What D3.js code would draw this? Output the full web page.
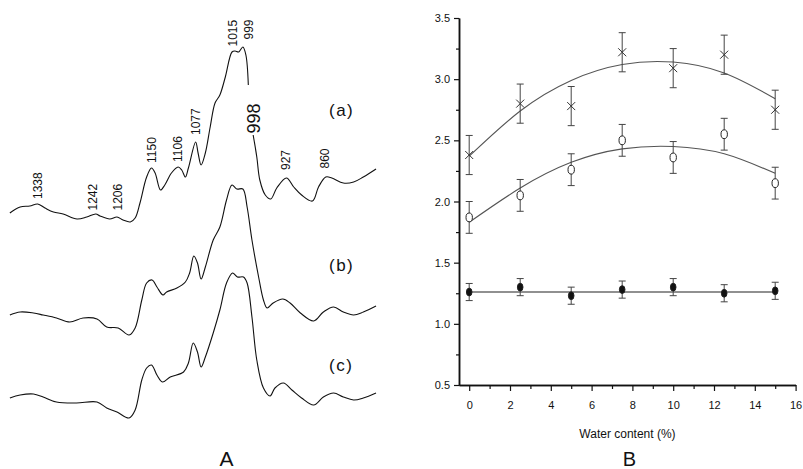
<!DOCTYPE html>
<html>
<head>
<meta charset="utf-8">
<script src="https://cdn.jsdelivr.net/npm/d3@7/dist/d3.min.js"></script>
<style>
  body { margin: 0; background: #fff; }
  text { font-family: "Liberation Sans", Arial, sans-serif; fill: #111; }
</style>
</head>
<body>
<div id="chart"></div>
<script>
// ---------- panel A : spectra, [wavenumber, absorbance]
var traceA = [
  [1384, 2.37], [1367, 2.43], [1351, 2.44], [1338, 2.46], [1326, 2.42], [1312, 2.38],
  [1296, 2.36], [1273, 2.31], [1257, 2.33], [1242, 2.36], [1235, 2.34], [1219, 2.31],
  [1207, 2.33], [1197, 2.30], [1185, 2.28], [1177, 2.32], [1169, 2.47], [1158, 2.73],
  [1150, 2.82], [1144, 2.77], [1135, 2.60], [1128, 2.65], [1117, 2.77], [1106, 2.83],
  [1100, 2.80], [1094, 2.73], [1089, 2.82], [1077, 3.08], [1073, 2.97], [1068, 2.85],
  [1061, 2.97], [1053, 3.23], [1045, 3.47], [1037, 3.55], [1028, 3.73], [1017, 3.98],
  [1012, 3.99], [1006, 3.98], [999, 4.03], [994, 3.95], [990, 3.65],
  null,
  [982, 3.15], [976, 2.93], [971, 2.70], [962, 2.55], [953, 2.51], [943, 2.62],
  [927, 2.72], [915, 2.63], [902, 2.55], [884, 2.49], [874, 2.63], [862, 2.73],
  [852, 2.72], [833, 2.67], [816, 2.68], [800, 2.73], [779, 2.81]
];
var traceB = [
  [1384, 1.35], [1367, 1.38], [1345, 1.37], [1329, 1.35], [1307, 1.32], [1285, 1.28],
  [1263, 1.32], [1240, 1.31], [1224, 1.23], [1205, 1.22], [1187, 1.15], [1177, 1.22],
  [1166, 1.50], [1158, 1.67], [1149, 1.70], [1141, 1.63], [1131, 1.55], [1125, 1.58],
  [1108, 1.62], [1094, 1.68], [1087, 1.77], [1080, 1.94], [1074, 1.87], [1068, 1.71],
  [1061, 1.83], [1048, 2.10], [1037, 2.23], [1026, 2.50], [1017, 2.65], [1009, 2.61],
  [999, 2.61], [992, 2.43], [984, 2.10], [973, 1.73], [965, 1.50], [959, 1.42],
  [949, 1.47], [933, 1.51], [921, 1.47], [904, 1.37], [882, 1.29], [866, 1.38],
  [849, 1.43], [833, 1.38], [816, 1.35], [800, 1.38], [779, 1.44]
];
var traceC = [
  [1384, 0.52], [1367, 0.55], [1345, 0.56], [1329, 0.53], [1307, 0.48], [1274, 0.47],
  [1240, 0.48], [1224, 0.42], [1207, 0.38], [1187, 0.32], [1177, 0.40], [1166, 0.70],
  [1158, 0.82], [1150, 0.85], [1141, 0.75], [1132, 0.68], [1119, 0.73], [1097, 0.78],
  [1089, 0.87], [1081, 1.07], [1074, 0.98], [1068, 0.83], [1061, 0.93], [1048, 1.17],
  [1037, 1.40], [1026, 1.67], [1016, 1.77], [1008, 1.73], [998, 1.73], [992, 1.67],
  [984, 1.33], [976, 0.90], [965, 0.62], [954, 0.54], [946, 0.62], [932, 0.67],
  [918, 0.60], [902, 0.52], [882, 0.45], [866, 0.53], [849, 0.57], [833, 0.53],
  [816, 0.50], [800, 0.52], [779, 0.57]
];
var peakLabels = [1338, 1242, 1206, 1150, 1106, 1077, 1015, 999, 998, 927, 860];
var traceNames = ["(a)", "(b)", "(c)"];

// ---------- panel B : water content series
var waterContent = [0, 2.5, 5, 7.5, 10, 12.5, 15];
var crossValues = [2.38, 2.80, 2.78, 3.22, 3.09, 3.20, 2.75];
var crossErrors = [0.16, 0.16, 0.16, 0.16, 0.16, 0.16, 0.16];
var crossFit = [2.37, 2.74, 2.99, 3.12, 3.14, 3.05, 2.84];
var circleValues = [1.87, 2.05, 2.26, 2.50, 2.36, 2.55, 2.15];
var circleErrors = [0.13, 0.13, 0.13, 0.13, 0.13, 0.13, 0.13];
var circleFit = [1.83, 2.11, 2.32, 2.43, 2.45, 2.39, 2.23];
var dotValues = [1.26, 1.30, 1.23, 1.28, 1.30, 1.25, 1.27];
var dotErrors = [0.07, 0.07, 0.07, 0.07, 0.07, 0.07, 0.07];
var dotFit = [1.26, 1.26, 1.26, 1.26, 1.26, 1.26, 1.26];
var xTicksB = [0, 2, 4, 6, 8, 10, 12, 14, 16];
var yTicksB = [0.5, 1.0, 1.5, 2.0, 2.5, 3.0, 3.5];

var width = 803, height = 469;
var svg, xA, yA, xB, yB;

// label layout for panel A: [dx from peak, bottom y of rotated text, font size]
var peakLabelLayout = {
  1338: [0, 199, 12], 1242: [-3.5, 210.5, 12], 1206: [0, 210.5, 12],
  1150: [0, 163, 12], 1106: [-0.8, 162, 12], 1077: [0.4, 135, 12],
  1015: [-0.8, 46.5, 12], 999: [5.5, 39.5, 12], 998: [10.6, 133.5, 18],
  927: [-0.4, 170, 12], 860: [-2, 168.5, 12]
};
var traceNameY = [116, 271, 371];

createSVG();
drawPanelA();
drawPanelB();

function createSVG() {
  svg = d3.select("#chart")
    .append("svg")
    .attr("width", width)
    .attr("height", height);
}

function drawPanelA() {
  xA = d3.scaleLinear().domain([1338, 860]).range([37.7, 327]);
  yA = d3.scaleLinear().domain([0, 4.5]).range([450, 0]);

  var line = d3.line()
    .defined(function(d) { return d !== null; })
    .x(function(d) { return xA(d[0]); })
    .y(function(d) { return yA(d[1]); })
    .curve(d3.curveCatmullRom.alpha(0.5));

  svg.selectAll(".spectrum")
    .data([traceA, traceB, traceC])
    .enter()
    .append("path")
    .attr("class", "spectrum")
    .attr("d", line)
    .attr("fill", "none")
    .attr("stroke", "#111")
    .attr("stroke-width", 1.1);

  svg.selectAll(".peak")
    .data(peakLabels)
    .enter()
    .append("text")
    .attr("class", "peak")
    .attr("transform", function(d) {
      var l = peakLabelLayout[d];
      return "translate(" + (xA(d) + l[0]) + "," + l[1] + ") rotate(-90)";
    })
    .attr("dy", "0.35em")
    .style("font-size", function(d) { return peakLabelLayout[d][2] + "px"; })
    .text(function(d) { return d; });

  svg.selectAll(".tracename")
    .data(traceNames)
    .enter()
    .append("text")
    .attr("class", "tracename")
    .attr("x", 329)
    .attr("y", function(d, i) { return traceNameY[i]; })
    .style("font-size", "17px")
    .style("letter-spacing", "1.5px")
    .text(function(d) { return d; });

  svg.append("text")
    .attr("x", 226.5)
    .attr("y", 466)
    .attr("text-anchor", "middle")
    .style("font-size", "21px")
    .text("A");
}

function drawPanelB() {
  xB = d3.scaleLinear().domain([-0.5, 16]).range([459, 795.6]);
  yB = d3.scaleLinear().domain([0.5, 3.5]).range([385, 18]);

  var xMinor = d3.range(1, 16, 2);
  var yMinor = d3.range(0.75, 3.5, 0.5);

  // minor ticks first
  svg.append("g")
    .attr("transform", "translate(0," + yB(0.5) + ")")
    .call(d3.axisBottom(xB).tickValues(xMinor).tickSize(4).tickSizeOuter(0).tickFormat(""))
    .call(styleAxis);
  svg.append("g")
    .attr("transform", "translate(" + xB(-0.5) + ",0)")
    .call(d3.axisLeft(yB).tickValues(yMinor).tickSize(3).tickSizeOuter(0).tickFormat(""))
    .call(styleAxis);

  svg.append("g")
    .attr("transform", "translate(0," + yB(0.5) + ")")
    .call(d3.axisBottom(xB).tickValues(xTicksB).tickSize(6).tickSizeOuter(0).tickPadding(10))
    .call(styleAxis);
  svg.append("g")
    .attr("transform", "translate(" + xB(-0.5) + ",0)")
    .call(d3.axisLeft(yB).tickValues(yTicksB).tickSize(5).tickSizeOuter(0).tickPadding(4)
      .tickFormat(d3.format(".1f")))
    .call(styleAxis);

  svg.append("text")
    .attr("x", 627.5)
    .attr("y", 438)
    .attr("text-anchor", "middle")
    .style("font-size", "12px")
    .text("Water content (%)");

  svg.append("text")
    .attr("x", 629.5)
    .attr("y", 466)
    .attr("text-anchor", "middle")
    .style("font-size", "20px")
    .text("B");

  // fitted curves
  var fitLine = d3.line()
    .x(function(d, i) { return xB(waterContent[i]); })
    .y(function(d) { return yB(d); })
    .curve(d3.curveNatural);

  svg.selectAll(".fit")
    .data([crossFit, circleFit, dotFit])
    .enter()
    .append("path")
    .attr("class", "fit")
    .attr("d", fitLine)
    .attr("fill", "none")
    .attr("stroke", function(d, i) { return i == 2 ? "#222" : "#555"; })
    .attr("stroke-width", 1.1);

  drawSeries(crossValues, crossErrors, "cross");
  drawSeries(circleValues, circleErrors, "circle");
  drawSeries(dotValues, dotErrors, "dot");
}

function drawSeries(values, errors, kind) {
  var points = values.map(function(v, i) {
    return { x: waterContent[i], y: v, e: errors[i] };
  });

  var bars = svg.selectAll(".err-" + kind)
    .data(points)
    .enter()
    .append("g")
    .attr("class", "err-" + kind)
    .attr("stroke", "#444")
    .attr("stroke-width", 1);

  bars.append("line")
    .attr("x1", function(d) { return xB(d.x); })
    .attr("x2", function(d) { return xB(d.x); })
    .attr("y1", function(d) { return yB(d.y + d.e); })
    .attr("y2", function(d) { return yB(d.y - d.e); });
  bars.append("line")
    .attr("x1", function(d) { return xB(d.x) - 3.5; })
    .attr("x2", function(d) { return xB(d.x) + 3.5; })
    .attr("y1", function(d) { return yB(d.y + d.e); })
    .attr("y2", function(d) { return yB(d.y + d.e); });
  bars.append("line")
    .attr("x1", function(d) { return xB(d.x) - 3.5; })
    .attr("x2", function(d) { return xB(d.x) + 3.5; })
    .attr("y1", function(d) { return yB(d.y - d.e); })
    .attr("y2", function(d) { return yB(d.y - d.e); });

  var marks = svg.selectAll(".mark-" + kind)
    .data(points)
    .enter();

  if (kind == "cross") {
    marks.append("path")
      .attr("d", function(d) {
        var cx = xB(d.x), cy = yB(d.y);
        return "M" + (cx - 4) + "," + (cy - 4) + "L" + (cx + 4) + "," + (cy + 4) +
          "M" + (cx - 4) + "," + (cy + 4) + "L" + (cx + 4) + "," + (cy - 4);
      })
      .attr("stroke", "#333")
      .attr("stroke-width", 1);
  } else {
    marks.append("ellipse")
      .attr("cx", function(d) { return xB(d.x); })
      .attr("cy", function(d) { return yB(d.y); })
      .attr("rx", kind == "dot" ? 2.8 : 3.2)
      .attr("ry", kind == "dot" ? 3.9 : 4.4)
      .attr("fill", kind == "dot" ? "#111" : "#fff")
      .attr("stroke", "#222")
      .attr("stroke-width", 1);
  }
}

function styleAxis(g) {
  g.select(".domain").attr("stroke", "#111").attr("stroke-width", 1.5);
  g.selectAll(".tick line").attr("stroke", "#111").attr("stroke-width", 1.2);
  g.selectAll(".tick text")
    .style("font-size", "11px")
    .style("font-family", "'Liberation Sans', Arial, sans-serif")
    .attr("fill", "#222");
}
</script>
</body>
</html>
